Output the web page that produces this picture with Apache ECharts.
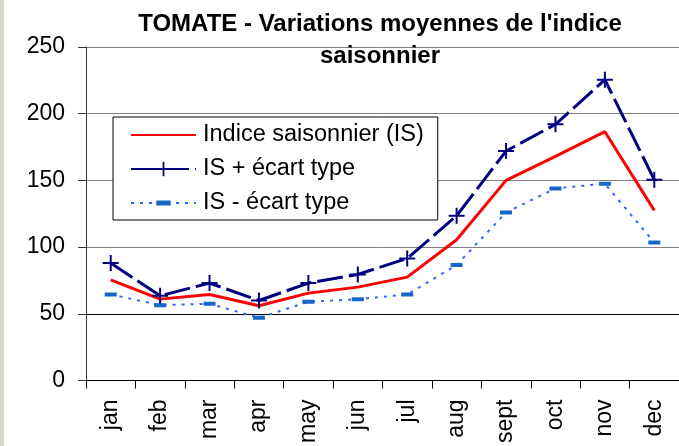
<!DOCTYPE html>
<html>
<head>
<meta charset="utf-8">
<script src="https://cdn.jsdelivr.net/npm/echarts@6/dist/echarts.min.js"></script>
<style>
  html, body { margin: 0; padding: 0; background: #fff; }
  #chart { width: 679px; height: 446px; }
</style>
</head>
<body>
<div id="chart"></div>
<script>
// mois
var months = ['jan', 'feb', 'mar', 'apr', 'may', 'jun', 'jul', 'aug', 'sept', 'oct', 'nov', 'dec'];
// Indice saisonnier (IS)
var indiceData = [75.5, 61, 64.5, 56, 65.5, 70, 77.5, 105.5, 150, 168, 186.5, 127.5];
// IS + écart type
var plusData = [88, 63.5, 73, 60, 73, 79.5, 91.5, 123.5, 172, 192, 225.5, 150.5];
// IS - écart type
var minusData = [64.5, 56.5, 57.5, 47, 59, 61, 64.5, 86.5, 126, 144, 147.5, 103.5];
var yTicks = [0, 50, 100, 150, 200, 250];

var fontName = '"Liberation Sans", Arial, sans-serif';
// symboles (boîte carrée, les sous-chemins vides ne servent qu'à fixer la taille)
var plusPath = 'path://M-1,-8H1V-1H8V1H1V8H-1V1H-8V-1H-1Z';
var dashPath = 'path://M0,4H12V8H0Z M0,0H0.01Z M0,12H0.01Z';
var emptyPath = 'path://M0,0H10Z M0,10H10Z';

var myChart = echarts.init(document.getElementById('chart'));
var option = {
    animation: false,
    backgroundColor: '#fff',
    textStyle: { fontFamily: fontName, color: '#000' },
    graphic: [{
        type: 'rect',
        left: 0,
        top: 0,
        shape: { width: 4, height: 446 },
        style: { fill: '#d8d4ca' }
    }],
    title: {
        text: "TOMATE - Variations moyennes de l'indice\nsaisonnier",
        left: 375,
        top: 3,
        textAlign: 'center',
        textStyle: {
            fontFamily: fontName,
            fontSize: 24,
            fontWeight: 'bold',
            color: '#000',
            lineHeight: 32
        }
    },
    legend: {
        orient: 'vertical',
        left: 113,
        top: 117,
        padding: [6, 14, 5, 17],
        borderColor: '#000',
        borderWidth: 1,
        backgroundColor: '#fff',
        itemWidth: 65,
        itemHeight: 18,
        itemGap: 10,
        textStyle: { fontFamily: fontName, fontSize: 23.5, color: '#000', padding: [0, 0, 0, 2] },
        data: ['Indice saisonnier (IS)', 'IS + écart type', 'IS - écart type']
    },
    grid: {
        left: 86,
        top: 47,
        width: 599,
        height: 333.5
    },
    xAxis: {
        type: 'category',
        data: months,
        axisLine: { lineStyle: { color: '#000', width: 1 } },
        axisTick: { show: true, length: 8, lineStyle: { color: '#000' } },
        axisLabel: {
            rotate: 90,
            margin: 19,
            fontFamily: fontName,
            fontSize: 23,
            color: '#000'
        },
        splitLine: { show: false }
    },
    yAxis: {
        type: 'value',
        min: 0,
        max: 250,
        interval: 50,
        axisLine: { show: true, lineStyle: { color: '#333', width: 1 } },
        axisTick: { show: true, length: 8, lineStyle: { color: '#333' } },
        axisLabel: {
            margin: 21,
            fontFamily: fontName,
            fontSize: 23,
            color: '#000',
            formatter: function (v) { return yTicks.indexOf(v) >= 0 ? String(v) : ''; }
        },
        splitLine: {
            show: true,
            lineStyle: { color: ['#000', '#000', '#808080', '#808080', '#808080', '#808080'], width: 1 }
        }
    },
    series: [{
        name: 'Indice saisonnier (IS)',
        type: 'line',
        data: indiceData,
        symbol: emptyPath,
        showSymbol: false,
        z: 3,
        lineStyle: { color: '#ff0000', width: 3 },
        itemStyle: { color: '#ff0000' }
    }, {
        name: 'IS + écart type',
        type: 'line',
        data: plusData,
        symbol: plusPath,
        symbolSize: 16,
        z: 4,
        lineStyle: { color: '#000080', width: 3, type: [26, 6] },
        itemStyle: { color: '#000080' }
    }, {
        name: 'IS - écart type',
        type: 'line',
        data: minusData,
        symbol: dashPath,
        symbolSize: 12,
        z: 2,
        lineStyle: { color: '#3366ff', width: 2, type: [3, 6] },
        itemStyle: { color: '#1666cc' }
    }]
};
myChart.setOption(option);
</script>
</body>
</html>
